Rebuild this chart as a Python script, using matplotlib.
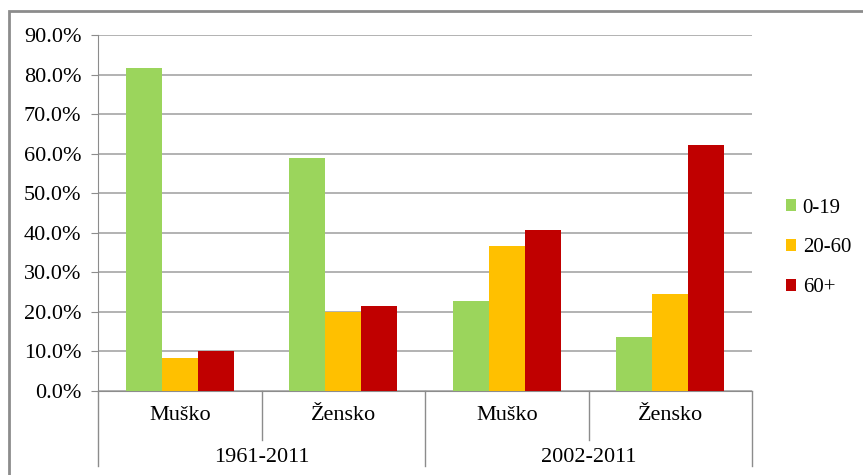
import matplotlib.pyplot as plt
import matplotlib.transforms as mtransforms
from matplotlib.patches import Patch, Rectangle
import numpy as np

plt.rcParams['font.family'] = ['Liberation Serif', 'DejaVu Serif']

# data (percent)
periods = ['1961-2011', '2002-2011']
sexes = ['Muško', 'Žensko']
age_groups = ['0-19', '20-60', '60+']
share_0_19 = [81.6, 58.9, 22.7, 13.6]
share_20_60 = [8.3, 20.0, 36.7, 24.5]
share_60_plus = [10.1, 21.5, 40.7, 62.2]
y_ticks = [0, 10, 20, 30, 40, 50, 60, 70, 80, 90]

colors = ['#9BD55C', '#FFC000', '#C00000']
GRID = '#A6A6A6'
AXIS = '#8C8C8C'
FS = 16

W, H = 863, 475
fig = plt.figure(figsize=(W / 100, H / 100), dpi=100)

# outer chart frame (runs off the right and bottom edges)
fig.patches.append(Rectangle((9 / W, -0.05), 1.0, 1 - 11 / H + 0.05,
                             transform=fig.transFigure, fill=False,
                             edgecolor='#8C8C8C', linewidth=2))

ax = fig.add_axes([98 / W, (H - 391) / H, (752 - 98) / W, (391 - 35) / H])

x = np.arange(4)
width = 0.22
series = [share_0_19, share_20_60, share_60_plus]
for i, (vals, col, lab) in enumerate(zip(series, colors, age_groups)):
    ax.bar(x + (i - 1) * width, vals, width, color=col, label=lab, zorder=3)

ax.set_xlim(-0.5, 3.5)
ax.set_ylim(0, 90)
ax.set_yticks(y_ticks)
ax.set_yticklabels([f'{v:.1f}%' for v in y_ticks], fontsize=FS)
ax.yaxis.grid(True, color=GRID, linewidth=1.2, zorder=0)
ax.tick_params(axis='y', length=5, color=AXIS, pad=7)
ax.set_xticks([])
for side in ['top', 'right']:
    ax.spines[side].set_visible(False)
ax.spines['left'].set_color(AXIS)
ax.spines['bottom'].set_color(AXIS)

# two-level category axis
trans = mtransforms.blended_transform_factory(ax.transData, ax.transAxes)
sub_bottom = -(440 - 391) / 356
grp_bottom = -(466 - 391) / 356
for k in range(4):
    ax.text(k, -(416 - 391) / 356, sexes[k % 2], transform=trans,
            ha='center', va='center', fontsize=FS)
for g, name in enumerate(periods):
    ax.text(2 * g + 0.5, -(457 - 391) / 356, name, transform=trans,
            ha='center', va='center', fontsize=FS)
for b in [0.5, 2.5]:
    ax.plot([b, b], [0, sub_bottom], transform=trans, color=AXIS,
            linewidth=1, clip_on=False)
for b in [-0.5, 1.5, 3.5]:
    ax.plot([b, b], [0, grp_bottom], transform=trans, color=AXIS,
            linewidth=1, clip_on=False)

handles = [Patch(facecolor=c, label=l) for c, l in zip(colors, age_groups)]
fig.legend(handles=handles, loc='center left',
           bbox_to_anchor=(786 / W, 1 - 248 / H), frameon=False,
           fontsize=15, handlelength=0.5, handleheight=0.5,
           handletextpad=0.3, labelspacing=1.0,
           borderpad=0, borderaxespad=0)

fig.savefig('out.png', dpi=100)
